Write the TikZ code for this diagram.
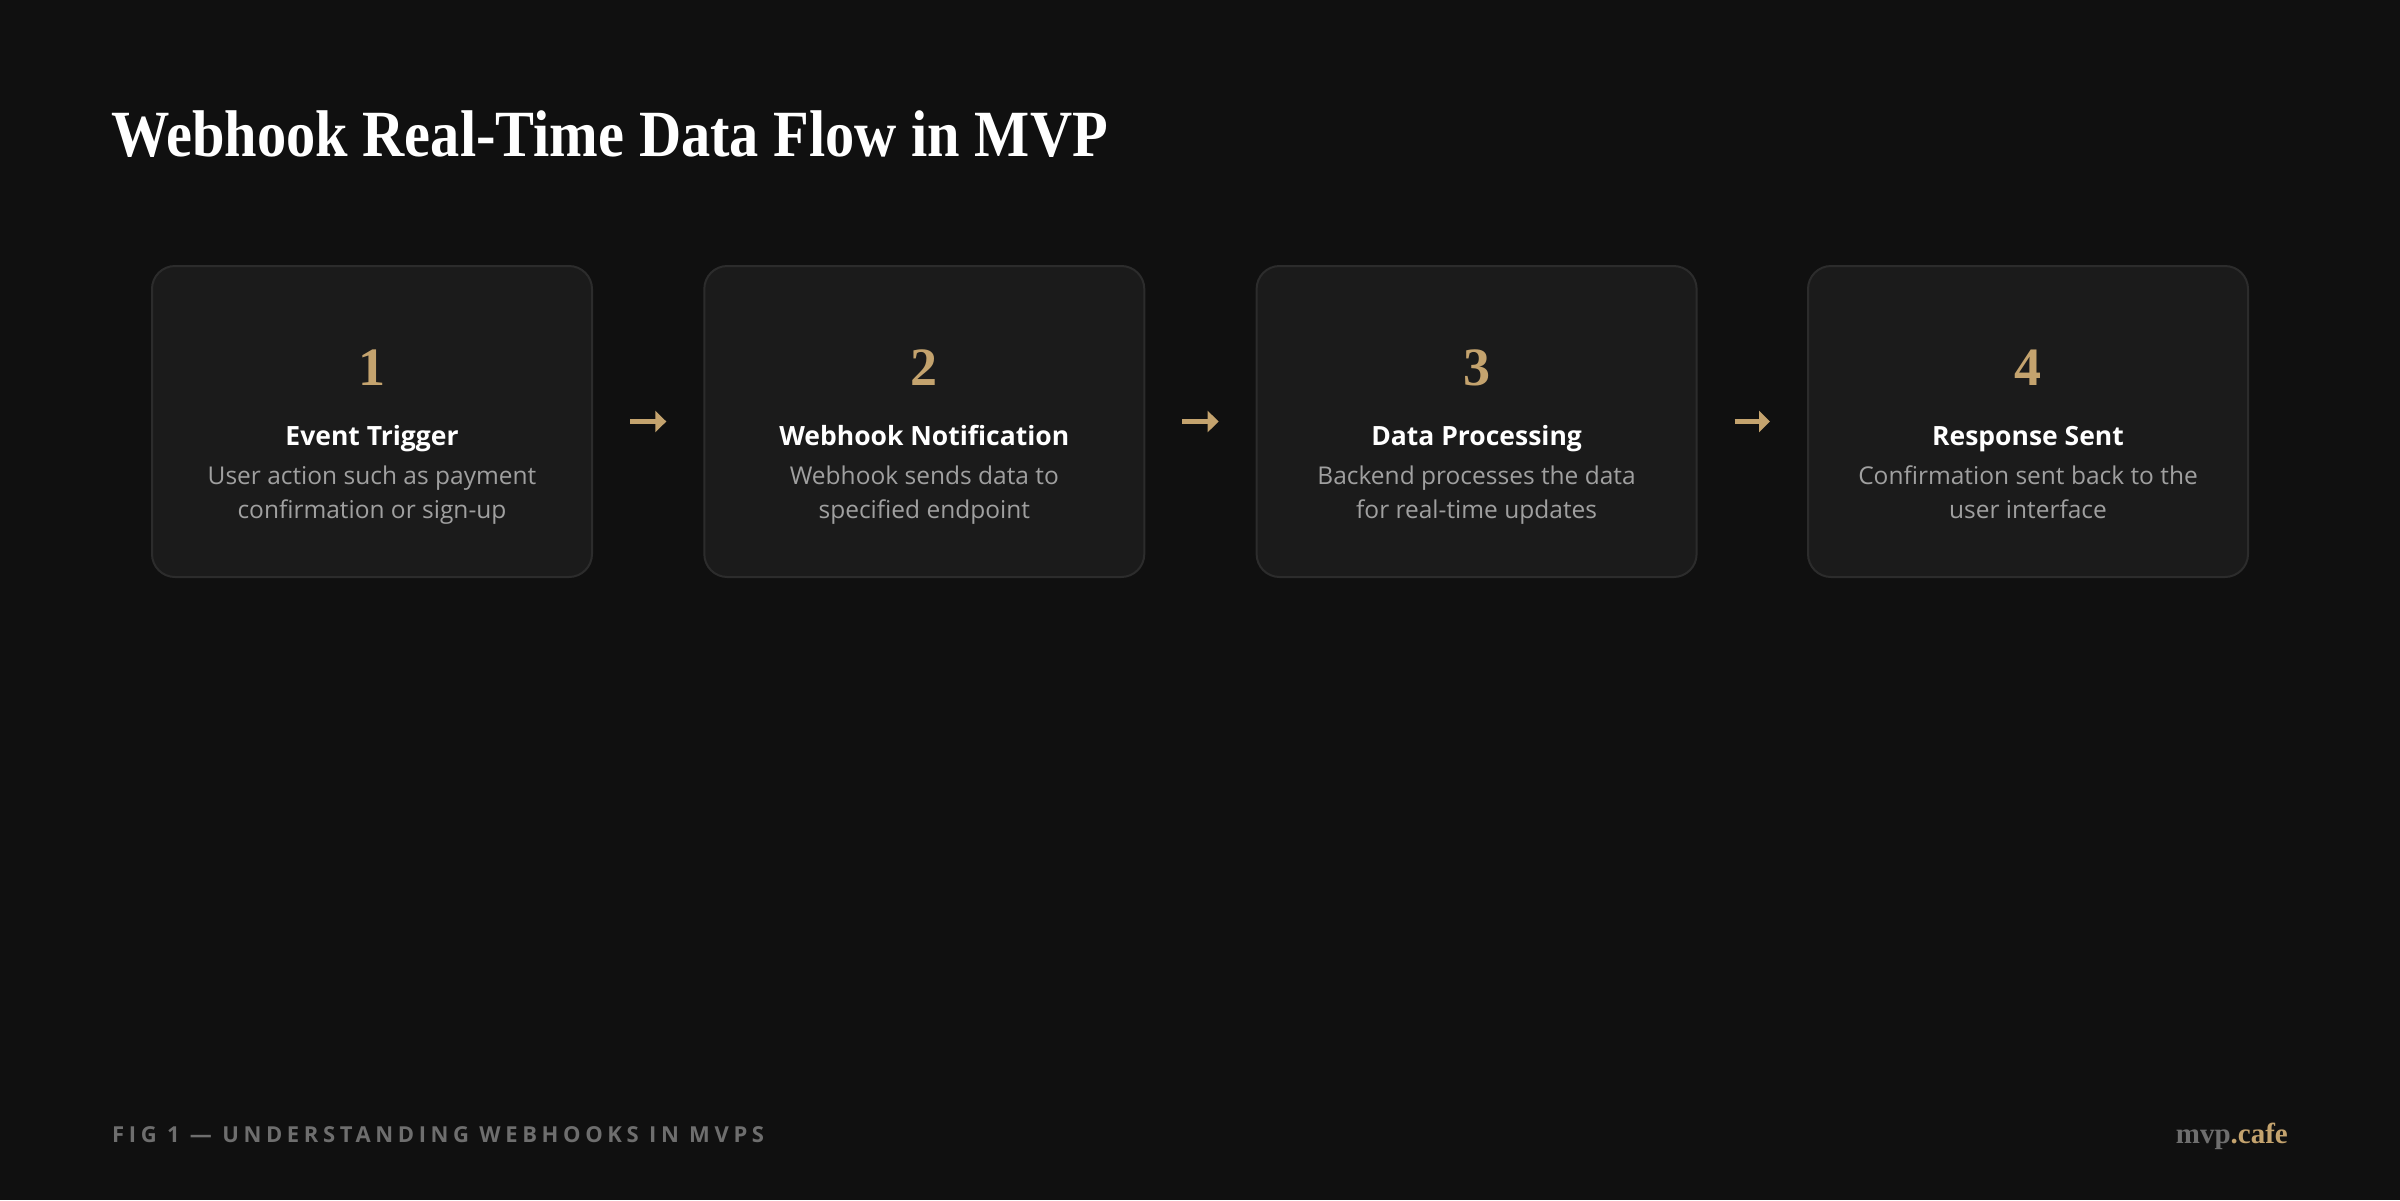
\documentclass[tikz,border=0pt]{standalone}
\usepackage{fontspec}
\usetikzlibrary{arrows.meta}
\setmainfont{Liberation Serif}
\newfontfamily\uisans{Open Sans}
\newfontfamily\trackfont[LetterSpace=21]{Open Sans}
\definecolor{bgc}{HTML}{101010}
\definecolor{cardc}{HTML}{1B1B1B}
\definecolor{cardline}{HTML}{2C2C2C}
\definecolor{gold}{HTML}{C4A36E}
\definecolor{desc}{HTML}{A0A0A0}
\definecolor{foot}{HTML}{6E6E6E}
\tikzset{
  card/.style={draw=cardline, line width=2pt, fill=cardc, rounded corners=23pt,
    minimum width=440pt, minimum height=311pt, inner sep=0pt},
  numtxt/.style={text=gold, font=\fontsize{54}{54}\selectfont\bfseries, inner sep=0pt, anchor=center},
  ttl/.style={text=white, font=\uisans\bfseries\fontsize{26.5}{30}\selectfont, inner sep=0pt, anchor=base},
  dsc/.style={text=desc, font=\uisans\fontsize{24.5}{34}\selectfont, align=center, inner sep=0pt, anchor=north},
  flow/.style={draw=gold, line width=5pt, -{Triangle[length=11pt,width=21pt]}}
}
\begin{document}
\begin{tikzpicture}[x=1pt,y=-1pt]
\fill[bgc] (0,0) rectangle (2400,1200);
\useasboundingbox (0,0) rectangle (2400,1200);
\node[anchor=base west, inner sep=0pt, text=white, font=\fontsize{66}{70}\selectfont\bfseries] (title) at (111,156) {\scalebox{0.885}[1]{Webhook Real-Time Data Flow in MVP}};

\node[card] (b1) at (372,421.5) {};
\node[card] (b2) at (924.3,421.5) {};
\node[card] (b3) at (1476.6,421.5) {};
\node[card] (b4) at (2028,421.5) {};

\node[numtxt] (n1) at (372,368) {1};
\node[numtxt] (n2) at (924.3,368) {2};
\node[numtxt] (n3) at (1476.6,368) {3};
\node[numtxt] (n4) at (2028,368) {4};

\node[ttl] (t1) at (372,445) {Event Trigger};
\node[ttl] (t2) at (924.3,445) {Webhook Notification};
\node[ttl] (t3) at (1476.6,445) {Data Processing};
\node[ttl] (t4) at (2028,445) {Response Sent};

\node[dsc] (d1) at (372,466) {User action such as payment\\confirmation or sign-up};
\node[dsc] (d2) at (924.3,466) {Webhook sends data to\\specified endpoint};
\node[dsc] (d3) at (1476.6,466) {Backend processes the data\\for real-time updates};
\node[dsc] (d4) at (2028,466) {Confirmation sent back to the\\user interface};

\draw[flow] ([xshift=37pt]b1.east) -- ([xshift=-37pt]b2.west);
\draw[flow] ([xshift=37pt]b2.east) -- ([xshift=-37pt]b3.west);
\draw[flow] ([xshift=37pt]b3.east) -- ([xshift=-37pt]b4.west);

\node[anchor=base west, inner sep=0pt, text=foot, font=\trackfont\bfseries\fontsize{22}{24}\selectfont] (fig) at (112,1142) {FIG 1 — UNDERSTANDING WEBHOOKS IN MVPS};
\node[anchor=base east, inner sep=0pt, font=\fontsize{29}{32}\selectfont\bfseries] (logo) at (2288,1143) {\textcolor{foot}{mvp}\textcolor{gold}{.cafe}};
\end{tikzpicture}
\end{document}
